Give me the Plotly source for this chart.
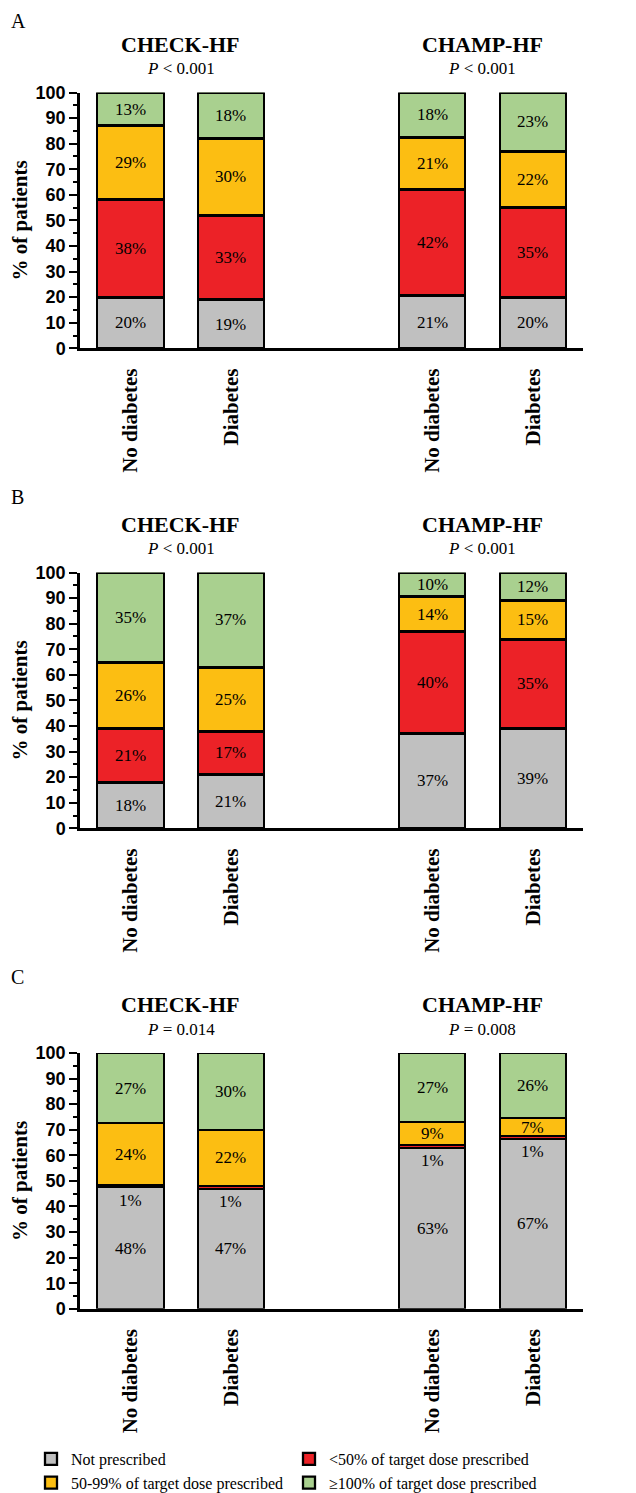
import plotly.graph_objects as go

# ---------------- data ----------------
panels = ["A", "B", "C"]
studies = ["CHECK-HF", "CHAMP-HF"]
p_values = [["<i>P</i> < 0.001", "<i>P</i> < 0.001"],
            ["<i>P</i> < 0.001", "<i>P</i> < 0.001"],
            ["<i>P</i> = 0.014", "<i>P</i> = 0.008"]]
groups = ["No diabetes", "Diabetes", "No diabetes", "Diabetes"]
bar_pos = [0, 1, 3, 4]

series_names = ["Not prescribed", "<50% of target dose prescribed",
                "50-99% of target dose prescribed", "≥100% of target dose prescribed"]
series_colors = ["#C0C0C0", "#EC2227", "#FCBE12", "#A9D08F"]

# panel A (bars: CHECK no diab, CHECK diab, CHAMP no diab, CHAMP diab)
A_not = [20, 19, 20.5, 20]
A_lt50 = [38, 33, 41.5, 35]
A_mid = [29, 30, 20.5, 22]
A_full = [13, 18, 17.5, 23]
A_lab = [["20%", "19%", "21%", "20%"], ["38%", "33%", "42%", "35%"],
         ["29%", "30%", "21%", "22%"], ["13%", "18%", "18%", "23%"]]

# panel B
B_not = [18, 21, 37, 39]
B_lt50 = [21, 17, 40, 35]
B_mid = [26, 25, 13.5, 15]
B_full = [35, 37, 9.5, 11]
B_lab = [["18%", "21%", "37%", "39%"], ["21%", "17%", "40%", "35%"],
         ["26%", "25%", "14%", "15%"], ["35%", "37%", "10%", "12%"]]

# panel C
C_not = [47.5, 47, 63, 66.5]
C_lt50 = [1, 1, 1, 1]
C_mid = [24, 22, 9, 7]
C_full = [27.5, 30, 27, 25.5]
C_lab = [["48%", "47%", "63%", "67%"], ["1%", "1%", "1%", "1%"],
         ["24%", "22%", "9%", "7%"], ["27%", "30%", "27%", "26%"]]

panel_values = [[A_not, A_lt50, A_mid, A_full],
                [B_not, B_lt50, B_mid, B_full],
                [C_not, C_lt50, C_mid, C_full]]
panel_labels = [A_lab, B_lab, C_lab]

# ---------------- layout geometry (page pixels) ----------------
PAGE_MARGIN = 8              # default body margin of the html page
W, H = 636 - PAGE_MARGIN, 1493 - PAGE_MARGIN
offsets = [0, 480, 960.5]
x_left, x_right = 80, 583
SERIF = "Liberation Serif, Times New Roman, serif"
SANS = "Liberation Sans, Arial, sans-serif"


def fx(px):
    return (px - PAGE_MARGIN) / W


def fy(px):
    return 1 - (px - PAGE_MARGIN) / H


fig = go.Figure()
annotations = []
layout_axes = {}

for k, (vals, labs) in enumerate(zip(panel_values, panel_labels)):
    off = offsets[k]
    xa = "x" if k == 0 else f"x{k+1}"
    ya = "y" if k == 0 else f"y{k+1}"
    for s in range(4):
        fig.add_trace(go.Bar(
            x=bar_pos, y=vals[s], name=series_names[s],
            marker=dict(color=series_colors[s], line=dict(color="black", width=2.3)),
            width=0.66, xaxis=xa, yaxis=ya, showlegend=(k == 0),
            hoverinfo="skip"))
    # segment labels
    for b in range(4):
        base = 0
        for s in range(4):
            v = vals[s][b]
            mid = base + v / 2
            small = v < 2
            annotations.append(dict(
                x=bar_pos[b], y=mid, xref=xa, yref=ya, text=labs[s][b],
                showarrow=False, yshift=-14 if small else 0,
                font=dict(family=SERIF, size=17, color="black")))
            base += v
    # titles
    for j, study in enumerate(studies):
        cx = (bar_pos[2 * j] + bar_pos[2 * j + 1]) / 2
        annotations.append(dict(x=cx, xref=xa, y=fy(off + 44), yref="paper",
                                text=f"<b>{study}</b>", showarrow=False,
                                yanchor="middle",
                                font=dict(family=SERIF, size=22, color="black")))
        annotations.append(dict(x=cx, xref=xa, y=fy(off + 68.5), yref="paper",
                                text=p_values[k][j], showarrow=False,
                                yanchor="middle",
                                font=dict(family=SERIF, size=17, color="black")))
    if k == 0:
        letter_pos = dict(y=1.0, yanchor="top")
    else:
        letter_pos = dict(y=fy(off + 17), yanchor="middle")
    annotations.append(dict(x=fx(9), xref="paper", yref="paper",
                            text=panels[k], showarrow=False, xanchor="left",
                            font=dict(family=SERIF, size=20, color="black"),
                            **letter_pos))
    top = off + 92.5
    bottom = off + 348.3
    xkey = "xaxis" if k == 0 else f"xaxis{k+1}"
    ykey = "yaxis" if k == 0 else f"yaxis{k+1}"
    layout_axes[xkey] = dict(
        domain=[fx(x_left), fx(x_right)], range=[-0.5, 4.5], anchor=ya,
        tickvals=bar_pos, ticktext=[f"<b>{g}</b>" for g in groups],
        tickangle=-90, ticks="", showline=True, linecolor="black", linewidth=2.5,
        showgrid=False, zeroline=False, ticklabelstandoff=9, automargin=False,
        tickfont=dict(family=SERIF, size=21, color="black"), fixedrange=True)
    layout_axes[ykey] = dict(
        domain=[fy(bottom), fy(top)], range=[0, 100], anchor=xa,
        dtick=10, tick0=0, ticks="outside", ticklen=8, tickwidth=2, tickcolor="black",
        minor=dict(dtick=5, ticks="outside", ticklen=4, tickwidth=2, tickcolor="black"),
        showline=True, linecolor="black", linewidth=2.5, showgrid=False, zeroline=False,
        tickfont=dict(family=SANS, size=18, color="black", weight="bold"),
        title=dict(text="<b>% of patients</b>", standoff=3,
                   font=dict(family=SERIF, size=21, color="black")),
        automargin=False, fixedrange=True)

fig.update_layout(
    width=W, height=H, margin=dict(l=0, r=0, t=0, b=0, autoexpand=False),
    paper_bgcolor="white", plot_bgcolor="white", barmode="stack", bargap=0,
    annotations=annotations,
    legend=dict(orientation="h", x=fx(31), xanchor="left", y=fy(1442), yanchor="top",
                entrywidth=213, entrywidthmode="pixels", traceorder="normal",
                font=dict(family=SERIF, size=16, color="black"),
                itemclick=False, itemdoubleclick=False),
    **layout_axes)

fig.write_html("out.html")
